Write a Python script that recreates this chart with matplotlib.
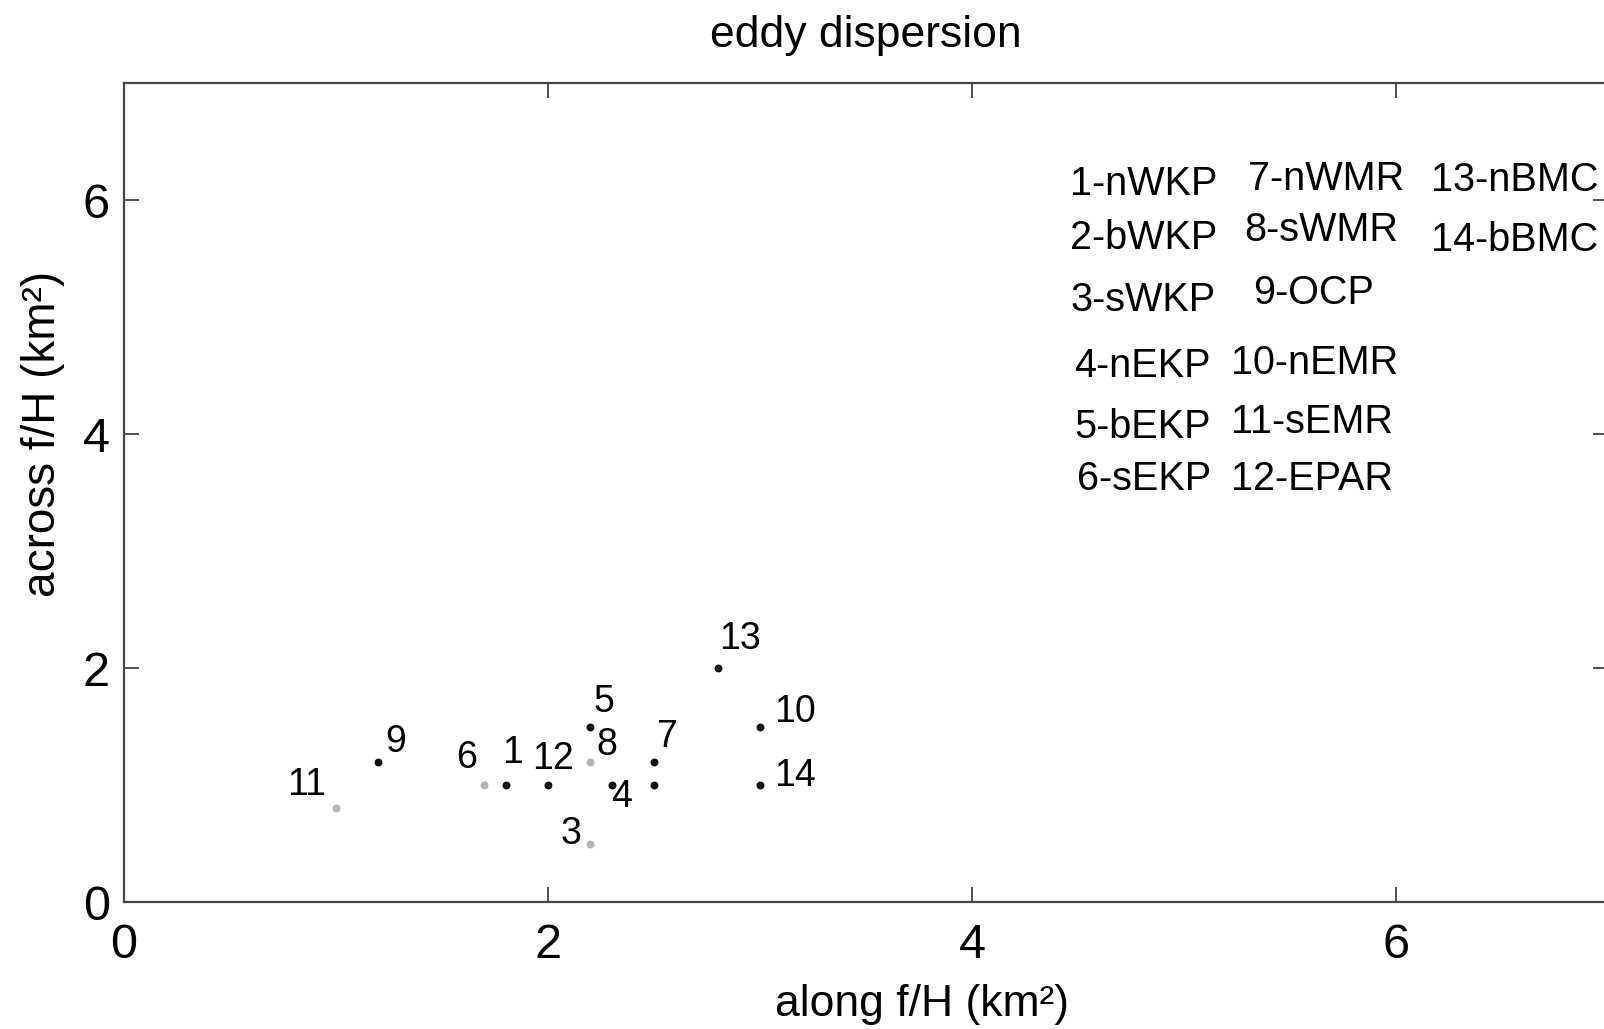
import numpy as np
import matplotlib.pyplot as plt

plt.rcParams['font.family'] = ['Liberation Sans', 'DejaVu Sans']

# eddy dispersion per region (km^2)
ids = [1, 2, 3, 4, 5, 6, 7, 8, 9, 10, 11, 12, 13, 14]
along = [1.8, 2.5, 2.2, 2.3, 2.2, 1.7, 2.5, 2.2, 1.2, 3.0, 1.0, 2.0, 2.8, 3.0]
across = [1.0, 1.0, 0.5, 1.0, 1.5, 1.0, 1.2, 1.2, 1.2, 1.5, 0.8, 1.0, 2.0, 1.0]
shallow = [False, False, True, False, False, True, False, True, False, False, True, False, False, False]

names = ['1-nWKP', '2-bWKP', '3-sWKP', '4-nEKP', '5-bEKP', '6-sEKP',
         '7-nWMR', '8-sWMR', '9-OCP', '10-nEMR', '11-sEMR', '12-EPAR',
         '13-nBMC', '14-bBMC']

# label offsets in pixels (centre of the number relative to the dot)
label_off = {1: (7, 35), 3: (-19, 12), 4: (10, -9), 5: (14, 27), 6: (-18, 30),
             7: (13, 28), 8: (16, 20), 9: (17, 23), 10: (35, 17), 11: (-29, 26),
             12: (5, 29), 13: (22, 32), 14: (35, 12)}

# where each key entry sits (left edge, centre line) in pixels
key_pos = [(1070, 181), (1070, 235), (1070, 297), (1074, 363), (1074, 424), (1077, 476),
           (1248, 176), (1244, 227), (1253, 290), (1231, 360), (1231, 419), (1231, 476),
           (1431, 177), (1431, 237)]

W, H = 1604, 1029
fig = plt.figure(figsize=(W / 100, H / 100), dpi=100)
ax_l, ax_r, ax_t, ax_b = 124, 1608, 83, 902
ax = fig.add_axes([ax_l / W, 1 - ax_b / H, (ax_r - ax_l) / W, (ax_b - ax_t) / H])

along = np.array(along)
across = np.array(across)
shallow = np.array(shallow)
ax.scatter(along[~shallow], across[~shallow], s=22, color='#111111', zorder=3)
ax.scatter(along[shallow], across[shallow], s=22, color='#b4b4b4', zorder=3)

for i, x, y in zip(ids, along, across):
    if i in label_off:
        dx, dy = label_off[i]
        ax.annotate(str(i), (x, y), xytext=(dx, dy - 13), textcoords='offset pixels',
                    ha='center', va='baseline', fontsize=27)

for name, (px, py) in zip(names, key_pos):
    ax.text((px - ax_l) / (ax_r - ax_l), (ax_b - py - 14) / (ax_b - ax_t), name,
            transform=ax.transAxes, ha='left', va='baseline', fontsize=28.5)

ax.set_xlim(0, 7)
ax.set_ylim(0, 7)
ax.set_xticks([0, 2, 4, 6])
ax.set_yticks([0, 2, 4, 6])
ax.tick_params(direction='in', top=True, right=True, length=11, width=1.2,
               labelsize=35, color='#333333')
ax.tick_params(axis='x', pad=15)
ax.tick_params(axis='y', pad=10)
for sp in ax.spines.values():
    sp.set_linewidth(1.6)
    sp.set_color('#444444')

ax.set_title('eddy dispersion', fontsize=32, pad=26)
ax.set_xlabel('along f/H (km²)', fontsize=32)
ax.set_ylabel('across f/H (km²)', fontsize=33)
ax.xaxis.set_label_coords(0.538, -0.100)
ax.yaxis.set_label_coords(-0.040, 0.571)

fig.savefig('out.png', dpi=100)
